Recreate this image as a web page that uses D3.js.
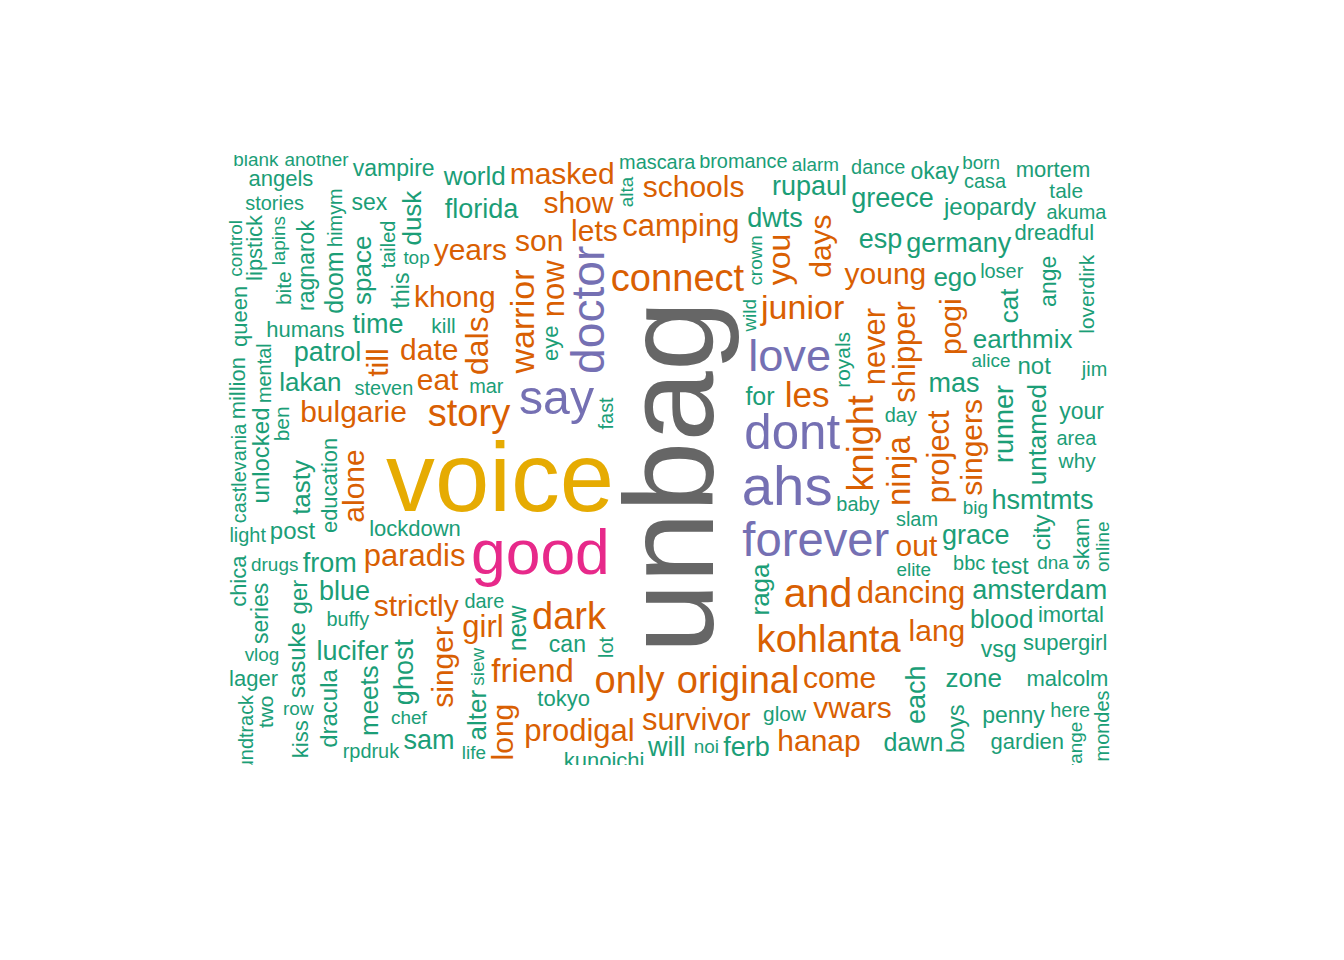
<!DOCTYPE html>
<html><head><meta charset="utf-8">
<script src="https://cdn.jsdelivr.net/npm/d3@7"></script>
<style>html,body{margin:0;padding:0;background:#ffffff;}</style>
</head><body>
<script>
// ---------------- data ----------------
const words = [
  "unbag","voice","good",
  "ahs","say","dont","forever","doctor","love",
  "and","dark","connect","kohlanta","original","only","story","knight","les","warrior","junior","friend","ninja","dals","you","girl","never","now","survivor","camping","dancing","shipper","prodigal","paradis","project",
  "eat","out","date","lets","khong","son","come","singer","days","singers","strictly","show","schools","vwars","young","years","alone","hanap","long","lang","masked","bulgarie","pogi","till",
  "grace","dwts","florida","ferb","will","time","ghost","rupaul","runner","each","esp","sam","greece","hsmtmts","blue","lucifer","amsterdam","germany","patrol","mas","from",
  "ego","blood","zone","tasty","space","meets","dusk","world","raga","earthmix","cat","alter","lakan","untamed",
  "for","doom","new","dawn",
  "city","sasuke","post","dracula","not","unlocked","ger","jeopardy",
  "this","your","test","vsg","series","penny","ragnarok","can","sex","boys","okay","vampire","ange",
  "humans","angels","tokyo","supergirl","mortem","chica","malcolm","eye","kiss","skam","gardien","lager","queen","lipstick","lockdown","dreadful","imortal","kunoichi","million","education",
  "why","ben","loverdirk","tale","kill","bite","two","royals","glow",
  "dance","stories","area","light","baby","dare","here","fast","himym","samokazem","buffy","castlevania","mondes","soundtrack","akuma","mental","casa","jim","lot","bbc","mascara","bromance","rpdruk","day","steven","euphoria","tailed","mar","loser","harvest","warper","bangkok","bloodride","captain","zombie","slam",
  "elite","lapins","siew","another","drugs","alice","vlog","noi","chef","alarm","big","romantic","orange","control","travelers","born","alta","dna","top","goblin","wild","modern","carnival","explained","life","charles","row","blank","qforce","online","simps","arrowverse","crown"
];
const counts = [
  110,81,46,
  40,32,33,31,30,29,
  25,22,22,22,22,22,22,20,19,18,18,17,17,16,16,15,15,15,15,15,15,15,15,15,15,
  14,14,14,14,14,14,14,14,14,14,14,14,14,14,14,14,14,14,14,14,14,14,14,14,
  11,11,11,11,11,11,11,11,11,11,11,11,11,11,11,11,11,11,11,11,11,
  10,10,10,10,10,10,10,10,10,10,10,10,10,10,
  9,9,9,9,
  8,8,8,8,8,8,8,8,
  7,7,7,7,7,7,7,7,7,7,7,7,7,
  6,6,6,6,6,6,6,6,6,6,6,6,6,6,6,6,6,6,6,6,
  5,5,5,5,5,5,5,5,5,
  4,4,4,4,4,4,4,4,4,4,4,4,4,4,4,4,4,4,4,4,4,4,4,4,4,4,4,4,4,4,4,4,4,4,4,4,
  3,3,3,3,3,3,3,3,3,3,3,3,3,3,3,3,3,3,3,3,3,3,3,3,3,3,3,3,3,3,3,3,3
];
// words that are set vertically (reading bottom to top)
const verticalWords = [
  "unbag","doctor","singer","days","singers","warrior","alone","knight","now","long","you","ninja","dals","never",
  "shipper","pogi","project","till","simps","online","unlocked","bangkok","ger","untamed","bloodride","arrowverse",
  "million","crown","education","ange","qforce","royals","tailed","lipstick","euphoria","queen","skam","boys","wild",
  "alter","two","cat","kiss","eye","lot","ben","bite","alta","dusk","chica","runner","mondes","soundtrack","series",
  "dracula","orange","ragnarok","mental","control","each","raga","ghost","tasty","doom","city","new","loverdirk",
  "space","meets","sasuke","fast","himym","samokazem","castlevania","romantic","lapins","siew","this"
];
const palette = d3.schemeDark2; // 8 colours, by frequency band

// ---------------- setup ----------------
const W = 1344, H = 960;
const region = {x0: 226, x1: 1112, y0: 155, y1: 765};
const cx = 667, cy = 477;
const U = 885;                      // pixels per layout unit
const FONT = '"Liberation Sans", Arial, Helvetica, sans-serif';
const maxF = d3.max(counts);
const sizeScale = d3.scaleLinear().domain([0, maxF]).range([15.9, 127]);
const colorScale = d3.scaleQuantize().domain([0, 1]).range(palette);
const vset = new Set(verticalWords);
const CAP = 0.716, PAD = 1.6;

const ctx = document.createElement("canvas").getContext("2d");
const items = words.map((w, i) => ({text: w, freq: counts[i], idx: i}))
  .sort((a, b) => b.freq - a.freq || a.idx - b.idx);
items.forEach(d => {
  d.size = sizeScale(d.freq);
  ctx.font = `${d.size}px ${FONT}`;
  const m = ctx.measureText(d.text);
  d.w = m.width;
  d.base = CAP * d.size / 2;                         // baseline below the anchor
  const asc = Math.max(m.actualBoundingBoxAscent, 0.74 * d.size);
  const desc = Math.max(m.actualBoundingBoxDescent, 0.06 * d.size);
  d.rot = vset.has(d.text);
  if (!d.rot) { d.l = -d.w / 2; d.r = d.w / 2; d.t = d.base - asc; d.b = d.base + desc; }
  else { d.l = d.base - asc; d.r = d.base + desc; d.t = -d.w / 2; d.b = d.w / 2; }
  d.l -= PAD; d.r += PAD; d.t -= PAD; d.b += PAD;
  d.bh = d.b - d.t;
});

// ---------------- layout (spiral, as in R's wordcloud) ----------------
const CELL = 40;
let grid;
function forCells(b, fn) {
  const i0 = Math.floor(b.x0 / CELL), i1 = Math.floor(b.x1 / CELL);
  const j0 = Math.floor(b.y0 / CELL), j1 = Math.floor(b.y1 / CELL);
  for (let i = i0; i <= i1; i++) for (let j = j0; j <= j1; j++) { if (fn(i * 10000 + j)) return true; }
  return false;
}
function collides(b) {
  return forCells(b, k => {
    const list = grid.get(k);
    if (!list) return false;
    for (const o of list) if (b.x0 < o.x1 && b.x1 > o.x0 && b.y0 < o.y1 && b.y1 > o.y0) return true;
    return false;
  });
}
function insert(b) {
  forCells(b, k => { if (!grid.has(k)) grid.set(k, []); grid.get(k).push(b); return false; });
}
// mode 0: R-like coarse spiral; mode 1: fine; mode 2: finest
function place(d, mode, slack) {
  let t = d.theta, r = 0;
  const rmax = mode ? 780 : Math.SQRT1_2 * U;
  const arc = mode === 2 ? 1.2 : 2.5, grow = mode === 2 ? 2.5 : 8;
  while (r <= rmax) {
    const x = cx + r * Math.cos(t), y = cy + r * Math.sin(t);
    const b = {x0: x + d.l, x1: x + d.r, y0: y + d.t, y1: y + d.b};
    if (b.x0 >= region.x0 && b.x1 <= region.x1 &&
        b.y0 >= region.y0 - slack * d.bh && b.y1 <= region.y1 + slack * d.bh && !collides(b)) {
      insert(b); d.x = x; d.y = y; return true;
    }
    if (mode) { const dt = Math.min(0.1, arc / Math.max(r, 1)); t += dt; r += grow * dt / (2 * Math.PI); }
    else { t += 0.1; r += 0.05 * U * 0.1 / (2 * Math.PI); }
  }
  return false;
}
function layout(seed, n, full) {
  grid = new Map();
  const rnd = d3.randomUniform.source(d3.randomLcg(seed))(0, 2 * Math.PI);
  const out = [];
  items.slice(0, n).forEach(d => {
    d.theta = rnd();
    d.x = d.y = undefined;
    if (place(d, 0, 0) || place(d, 1, 0) || (full && place(d, 2, 0)) || place(d, full ? 2 : 1, 0.3)) out.push(d);
  });
  return out;
}
// choose a layout seed that puts the largest words on the same sides as the original picture
const byText = t => items.find(d => d.text === t);
const V = byText("voice"), G = byText("good"), DOC = byText("doctor");
const rightSide = ["love", "say", "dont", "ahs", "forever"].map(byText);
function score() {
  let s = 0;
  if (V.x < cx) s++; if (V.y < cy) s++;
  if (G.x < cx) s++; if (G.y > V.y) s++;
  if (DOC.x < cx) s++; if (DOC.y > cy) s++;
  rightSide.forEach(d => { if (d.x > cx) s++; });
  for (let i = 1; i < rightSide.length; i++) if (rightSide[i].y > rightSide[i - 1].y) s++;
  return s;
}
let best = 1, bestScore = -1;
for (let s = 1; s <= 15000; s++) {
  layout(s, 9, false);
  const sc = score();
  if (sc > bestScore) { bestScore = sc; best = s; }
  if (sc === 15) break;
}
const placed = layout(best, items.length, true);

// ---------------- draw ----------------
const svg = d3.select("body").append("svg").attr("width", W).attr("height", H)
  .style("display", "block");
svg.append("rect").attr("width", W).attr("height", H).attr("fill", "#ffffff");
svg.append("defs").append("clipPath").attr("id", "plotclip").append("rect")
  .attr("x", 0).attr("y", region.y0).attr("width", W).attr("height", region.y1 - region.y0);
const g = svg.append("g").attr("clip-path", "url(#plotclip)");
g.selectAll("text").data(placed).join("text")
  .attr("transform", d => `translate(${d.x.toFixed(1)},${d.y.toFixed(1)})` + (d.rot ? " rotate(-90)" : ""))
  .attr("y", d => d.base.toFixed(1))
  .attr("text-anchor", "middle")
  .attr("font-family", FONT)
  .attr("font-size", d => d.size.toFixed(1))
  .attr("fill", d => colorScale(d.freq / maxF))
  .text(d => d.text);
</script>
</body></html>
